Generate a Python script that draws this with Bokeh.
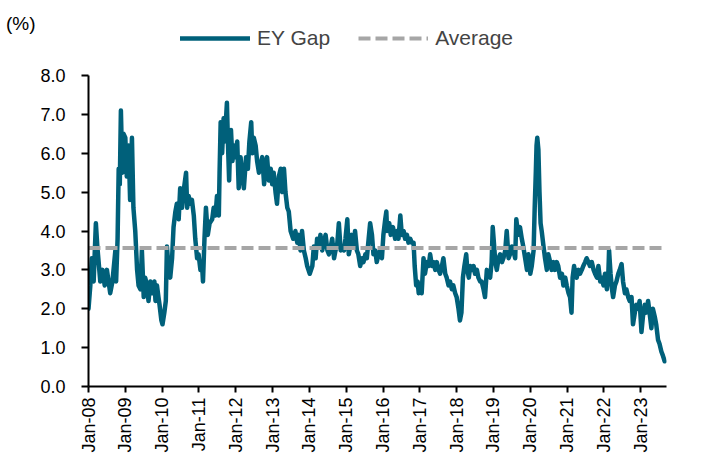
from bokeh.plotting import figure
from bokeh.models import FixedTicker, Legend, LegendItem, ColumnDataSource, LinearAxis
from bokeh.embed import file_html
from bokeh.resources import INLINE
import math

# ---- data (decimal years, %) ----
dates = [
    2008.00, 2008.05, 2008.09, 2008.14, 2008.20, 2008.24, 2008.32, 2008.38, 2008.44, 2008.50,
    2008.59, 2008.65, 2008.73, 2008.75, 2008.79, 2008.82, 2008.85, 2008.88, 2008.92, 2008.95,
    2009.00, 2009.04, 2009.09, 2009.13, 2009.18, 2009.22, 2009.27, 2009.32, 2009.36, 2009.41,
    2009.45, 2009.50, 2009.54, 2009.59, 2009.63, 2009.68, 2009.72, 2009.79, 2009.82, 2009.86,
    2009.90, 2009.93, 2009.98, 2010.01, 2010.06, 2010.10, 2010.13, 2010.18, 2010.22, 2010.27,
    2010.31, 2010.36, 2010.40, 2010.45, 2010.49, 2010.54, 2010.58, 2010.65, 2010.68, 2010.72,
    2010.77, 2010.81, 2010.86, 2010.90, 2010.95, 2010.99, 2011.04, 2011.08, 2011.11, 2011.15,
    2011.19, 2011.24, 2011.29, 2011.36, 2011.40, 2011.45, 2011.49, 2011.54, 2011.56, 2011.59,
    2011.63, 2011.67, 2011.70, 2011.76, 2011.79, 2011.82, 2011.84, 2011.87, 2011.91, 2011.95,
    2011.99, 2012.04, 2012.08, 2012.13, 2012.17, 2012.22, 2012.28, 2012.33, 2012.37, 2012.42,
    2012.45, 2012.49, 2012.54, 2012.58, 2012.63, 2012.67, 2012.72, 2012.77, 2012.81, 2012.85,
    2012.90, 2012.95, 2012.99, 2013.03, 2013.08, 2013.12, 2013.17, 2013.22, 2013.26, 2013.31,
    2013.35, 2013.40, 2013.44, 2013.49, 2013.56, 2013.62, 2013.67, 2013.71, 2013.76, 2013.80,
    2013.85, 2013.90, 2013.94, 2014.01, 2014.08, 2014.12, 2014.17, 2014.21, 2014.26, 2014.30,
    2014.35, 2014.39, 2014.44, 2014.49, 2014.53, 2014.58, 2014.62, 2014.67, 2014.71, 2014.76,
    2014.80, 2014.85, 2014.89, 2014.94, 2014.98, 2015.03, 2015.07, 2015.11, 2015.15, 2015.20,
    2015.24, 2015.29, 2015.33, 2015.38, 2015.43, 2015.47, 2015.52, 2015.56, 2015.61, 2015.65,
    2015.70, 2015.74, 2015.79, 2015.83, 2015.88, 2015.92, 2015.97, 2016.01, 2016.06, 2016.09,
    2016.11, 2016.17, 2016.21, 2016.27, 2016.33, 2016.38, 2016.42, 2016.47, 2016.51, 2016.56,
    2016.60, 2016.65, 2016.69, 2016.74, 2016.78, 2016.83, 2016.86, 2016.90, 2016.94, 2016.97,
    2017.01, 2017.05, 2017.10, 2017.14, 2017.19, 2017.24, 2017.28, 2017.33, 2017.37, 2017.42,
    2017.46, 2017.51, 2017.55, 2017.60, 2017.64, 2017.69, 2017.73, 2017.78, 2017.82, 2017.87,
    2017.91, 2017.96, 2018.00, 2018.05, 2018.09, 2018.13, 2018.17, 2018.21, 2018.26, 2018.29,
    2018.33, 2018.37, 2018.41, 2018.46, 2018.50, 2018.55, 2018.59, 2018.64, 2018.68, 2018.73,
    2018.77, 2018.82, 2018.86, 2018.91, 2018.95, 2018.98, 2019.02, 2019.05, 2019.09, 2019.14,
    2019.18, 2019.23, 2019.27, 2019.32, 2019.36, 2019.41, 2019.45, 2019.50, 2019.54, 2019.59,
    2019.62, 2019.67, 2019.72, 2019.77, 2019.81, 2019.86, 2019.91, 2019.95, 2020.00, 2020.04,
    2020.09, 2020.12, 2020.15, 2020.17, 2020.19, 2020.22, 2020.25, 2020.28, 2020.31, 2020.36,
    2020.40, 2020.45, 2020.49, 2020.54, 2020.58, 2020.63, 2020.67, 2020.72, 2020.76, 2020.81,
    2020.86, 2020.90, 2020.95, 2020.99, 2021.04, 2021.08, 2021.12, 2021.15, 2021.19, 2021.22,
    2021.26, 2021.31, 2021.35, 2021.40, 2021.44, 2021.49, 2021.53, 2021.58, 2021.62, 2021.67,
    2021.72, 2021.76, 2021.81, 2021.85, 2021.90, 2021.94, 2021.99, 2022.03, 2022.08, 2022.12,
    2022.14, 2022.18, 2022.22, 2022.25, 2022.30, 2022.34, 2022.39, 2022.43, 2022.48, 2022.52,
    2022.57, 2022.61, 2022.66, 2022.70, 2022.75, 2022.79, 2022.84, 2022.88, 2022.93, 2022.97,
    2023.02, 2023.06, 2023.11, 2023.15, 2023.20, 2023.24, 2023.29, 2023.33, 2023.38, 2023.42,
    2023.47, 2023.51, 2023.56, 2023.60, 2023.65,
]

ey_gap = [
    2.0, 2.6, 3.3, 2.7, 4.2, 3.6, 2.7, 3.0, 2.6, 3.0,
    2.4, 2.7, 3.5, 2.7, 3.8, 5.6, 5.2, 7.1, 5.5, 6.5,
    6.4, 5.4, 6.2, 4.8, 6.4, 4.6, 4.0, 3.0, 2.6, 2.5,
    3.5, 2.3, 2.8, 2.6, 2.2, 2.7, 2.4, 2.7, 2.2, 2.6,
    2.3, 2.1, 1.7, 1.6, 1.9, 2.2, 3.6, 3.0, 2.8, 3.3,
    4.1, 4.5, 4.7, 4.3, 5.1, 4.6, 5.0, 5.5, 4.6, 4.9,
    4.7, 4.8, 4.4, 3.8, 3.3, 3.4, 3.0, 3.2, 2.7, 3.8,
    4.6, 3.9, 4.2, 4.3, 4.6, 4.4, 4.9, 4.4, 5.5, 6.8,
    6.0, 6.9, 6.3, 7.3, 6.2, 5.3, 6.0, 6.6, 5.8, 6.2,
    5.9, 6.3, 5.1, 5.9, 5.5, 5.1, 5.9, 5.6, 6.3, 6.8,
    6.0, 6.4, 6.2, 5.8, 5.5, 5.7, 5.9, 5.2, 5.6, 5.9,
    5.3, 5.6, 5.2, 5.5, 5.0, 4.7, 5.4, 5.6, 5.0, 5.6,
    5.0, 4.6, 4.5, 4.0, 3.8, 4.0, 3.7, 3.9, 3.5, 4.0,
    3.5, 3.3, 3.1, 2.9, 3.1, 3.6, 3.3, 3.8, 3.6, 3.9,
    3.5, 3.7, 3.9, 3.5, 3.4, 3.6, 3.8, 3.3, 3.5, 3.7,
    4.2, 3.5, 3.6, 3.5, 3.8, 4.3, 3.4, 3.6, 3.9, 3.6,
    4.0, 3.5, 3.4, 3.1, 3.3, 3.2, 3.4, 3.3, 3.8, 4.2,
    3.9, 3.4, 3.5, 3.2, 3.4, 3.5, 3.3, 3.9, 4.3, 4.5,
    4.0, 4.2, 3.9, 4.1, 3.8, 4.0, 3.8, 4.4, 3.9, 4.0,
    3.8, 3.9, 3.7, 3.8, 3.7, 3.7, 3.1, 2.6, 2.7, 2.4,
    2.6, 2.4, 3.3, 2.9, 3.2, 3.1, 3.4, 3.1, 3.2, 3.0,
    3.2, 3.0, 2.9, 3.1, 3.3, 2.9, 2.8, 2.6, 2.7, 2.5,
    2.6, 2.4, 2.3, 2.0, 1.7, 1.9, 2.8, 3.1, 3.4, 3.0,
    2.8, 3.1, 3.0, 3.1, 2.9, 3.0, 2.8, 2.7, 2.7, 2.5,
    2.3, 3.0, 2.9, 2.8, 3.2, 4.1, 3.6, 3.2, 3.0, 3.3,
    3.4, 3.2, 3.3, 3.5, 4.0, 3.3, 3.4, 3.6, 3.5, 3.3,
    4.3, 3.9, 4.1, 3.8, 3.6, 3.3, 3.0, 3.4, 2.9, 3.1,
    3.5, 4.6, 5.5, 6.2, 6.4, 6.1, 5.0, 4.2, 4.0, 3.6,
    3.3, 3.0, 3.4, 3.2, 3.0, 3.2, 3.0, 3.2, 3.1, 2.8,
    2.9, 2.6, 2.8, 2.6, 2.4, 2.3, 1.9, 2.8, 3.1, 2.9,
    2.8, 3.0, 2.9, 3.0, 3.1, 3.2, 3.3, 3.2, 3.1, 3.2,
    3.0, 2.9, 2.8, 3.1, 2.7, 2.8, 2.6, 2.9, 2.5, 2.9,
    3.5, 2.9, 2.5, 2.3, 2.6, 2.7, 2.9, 3.0, 3.15, 2.7,
    2.4, 2.5, 2.3, 2.2, 2.3, 1.6, 1.9, 2.1, 2.0, 2.2,
    1.4, 1.8, 2.1, 1.9, 2.2, 1.9, 1.5, 2.0, 1.8, 1.6,
    1.2, 1.1, 0.9, 0.8, 0.65,
]

average_value = 3.56
tick_years = list(range(2008, 2024))
tick_labels = ["Jan-%02d" % (y % 100) for y in tick_years]
y_ticks = [0, 1, 2, 3, 4, 5, 6, 7, 8]
unit_text = "(%)"

FONT = "Liberation Sans"
LINE_COLOR = "#00607A"
AVG_COLOR = "#A6A6A6"

H = 459
BOTTOM = 73
FRAME_BOTTOM = H - BOTTOM          # pixel row of 0.0
PX_PER_UNIT = (386 - 75) / 8.0     # 8.0 sits 311 px above 0.0
y_top = FRAME_BOTTOM / PX_PER_UNIT # frame reaches the top edge
unit_pos = (FRAME_BOTTOM - 23) / PX_PER_UNIT

p = figure(width=694, height=H, output_backend="svg", toolbar_location=None,
           x_range=(2008.0, 2023.70), y_range=(0, y_top),
           min_border_left=88, min_border_right=28, min_border_top=0,
           min_border_bottom=BOTTOM)
p.outline_line_color = None
p.grid.visible = False
p.background_fill_color = "white"

src = ColumnDataSource(dict(x=dates, y=ey_gap))
r_gap = p.line("x", "y", source=src, line_color=LINE_COLOR, line_width=4.5,
               line_join="round", line_cap="round")
avg_src = ColumnDataSource(dict(x=[dates[0], dates[-1]], y=[average_value, average_value]))
r_avg = p.line("x", "y", source=avg_src, line_color=AVG_COLOR, line_width=4,
               line_dash="12 5")

# axes
for ax in (p.xaxis[0], p.yaxis[0]):
    ax.axis_line_color = "black"
    ax.axis_line_width = 2
    ax.major_tick_line_color = "black"
    ax.major_tick_line_width = 2
    ax.major_tick_in = 0
    ax.minor_tick_line_color = None
    ax.major_label_text_font = FONT
    ax.major_label_text_color = "black"

p.xaxis.ticker = FixedTicker(ticks=tick_years)
p.xaxis.major_label_overrides = {y: l for y, l in zip(tick_years, tick_labels)}
p.xaxis.major_label_orientation = math.pi / 2
p.xaxis.major_tick_out = 6
p.xaxis.major_label_standoff = 5
p.xaxis.major_label_text_font_size = "18px"

p.yaxis.ticker = FixedTicker(ticks=y_ticks)
p.yaxis.bounds = (0, 8)
p.yaxis.major_label_overrides = {v: "%.1f" % v for v in y_ticks}
p.yaxis.major_tick_out = 7
p.yaxis.major_label_standoff = 16
p.yaxis.major_label_text_font_size = "18px"

# unit text "(%)" as an extra, line-less left axis with a single labelled tick
unit_axis = LinearAxis(ticker=FixedTicker(ticks=[unit_pos]),
                       major_label_overrides={unit_pos: unit_text},
                       axis_line_color=None, major_tick_line_color=None,
                       minor_tick_line_color=None, major_tick_out=0, major_tick_in=0,
                       major_label_standoff=2, major_label_text_font=FONT,
                       major_label_text_font_size="19px", major_label_text_color="black")
p.add_layout(unit_axis, "left")

legend = Legend(items=[LegendItem(label="EY Gap", renderers=[r_gap]),
                       LegendItem(label="Average", renderers=[r_avg])],
                orientation="horizontal", location=(92, FRAME_BOTTOM - 50),
                border_line_color=None, background_fill_alpha=0,
                label_text_font=FONT, label_text_font_size="21px",
                glyph_width=70, glyph_height=20, label_height=20,
                label_standoff=7, spacing=28, padding=0, margin=0)
p.add_layout(legend, "center")

open("out.html", "w").write(file_html(p, INLINE))
